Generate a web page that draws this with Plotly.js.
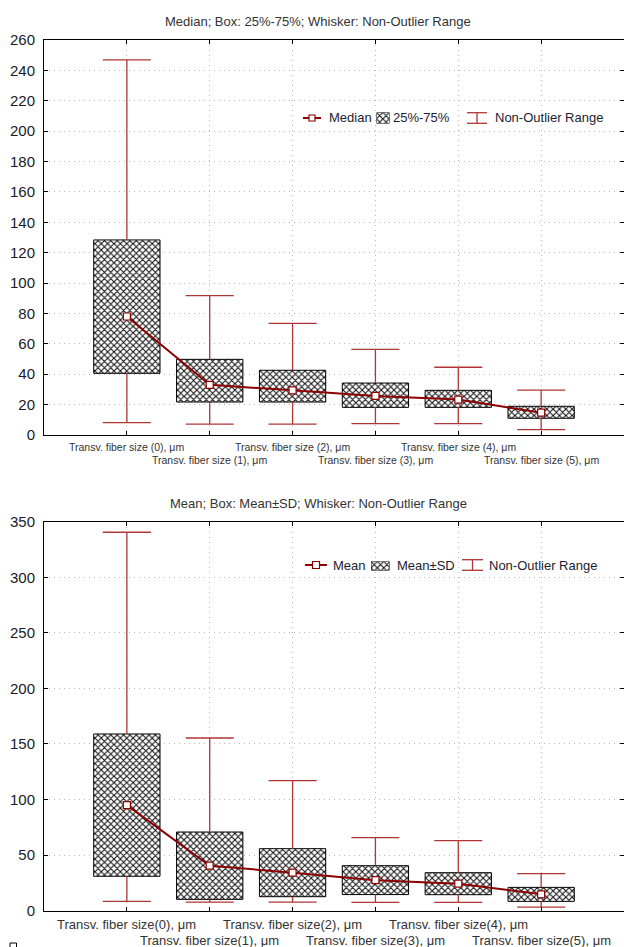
<!DOCTYPE html>
<html>
<head>
<meta charset="utf-8">
<script src="https://cdn.plot.ly/plotly-3.0.1.min.js"></script>
<style>
  html, body { margin: 0; padding: 0; background: #fff; overflow: hidden; }
  #chart { width: 624px; height: 947px; }
</style>
</head>
<body>
<div id="chart"></div>
<script>
// Transverse fiber size by group: median/quartiles (top) and mean/SD (bottom)
const groups = [0, 1, 2, 3, 4, 5];
const labelsTop = [
  'Transv. fiber size (0), μm', 'Transv. fiber size (1), μm', 'Transv. fiber size (2), μm',
  'Transv. fiber size (3), μm', 'Transv. fiber size (4), μm', 'Transv. fiber size (5), μm'
];
const labelsBottom = [
  'Transv. fiber size(0), μm', 'Transv. fiber size(1), μm', 'Transv. fiber size(2), μm',
  'Transv. fiber size(3), μm', 'Transv. fiber size(4), μm', 'Transv. fiber size(5), μm'
];

// Median / quartile summary
const medians = [78, 33, 29.4, 25.7, 23.3, 14.7];
const q25 = [40.6, 21.7, 21.7, 18.2, 18.2, 11];
const q75 = [128.4, 49.8, 42.6, 34.2, 29.4, 18.9];
const rangeMinTop = [8.1, 7.2, 7.2, 7.5, 7.5, 3.5];
const rangeMaxTop = [246.9, 91.7, 73.5, 56.4, 44.6, 29.6];

// Mean / SD summary
const means = [95, 40.5, 34.2, 27.5, 24.3, 14.7];
const sds = [64, 30.3, 21.6, 13, 9.9, 6.3];
const rangeMinBottom = [8.4, 7.8, 7.8, 7.5, 7.5, 3.3];
const rangeMaxBottom = [340.5, 155.4, 117, 65.7, 63, 33.3];

const W = 624, H = 947;
const px = x => x / W;
const py = y => 1 - y / H;

const DARKRED = '#8b0000';
const WHISK = '#b03535';
const FONT = 'Arial, "Liberation Sans", sans-serif';
const CAP = 0.29;   // half width of whisker caps, in category units
const BOXW = 0.8;

function whiskerPath(lo, hi, boxLo, boxHi) {
  const xs = [], ys = [];
  groups.forEach((g, i) => {
    xs.push(g, g, null, g - CAP, g + CAP, null, g, g, null, g - CAP, g + CAP, null);
    ys.push(boxHi[i], hi[i], null, hi[i], hi[i], null, boxLo[i], lo[i], null, lo[i], lo[i], null);
  });
  return { xs, ys };
}

const hatch = { shape: 'x', fgcolor: '#111', bgcolor: '#fff', size: 4.5, solidity: 0.42 };

function boxTrace(lo, hi, xa, ya) {
  return {
    type: 'bar', x: groups, base: lo, y: hi.map((h, i) => h - lo[i]),
    width: BOXW, xaxis: xa, yaxis: ya,
    marker: { color: '#fff', pattern: hatch, line: { color: '#000', width: 1 } },
    hoverinfo: 'skip'
  };
}
function whiskerTrace(lo, hi, boxLo, boxHi, xa, ya) {
  const p = whiskerPath(lo, hi, boxLo, boxHi);
  return {
    type: 'scatter', mode: 'lines', x: p.xs, y: p.ys, xaxis: xa, yaxis: ya,
    line: { color: WHISK, width: 1.3 }, connectgaps: false, hoverinfo: 'skip'
  };
}
function centerTrace(vals, xa, ya) {
  return {
    type: 'scatter', mode: 'lines+markers', x: groups, y: vals, xaxis: xa, yaxis: ya,
    line: { color: DARKRED, width: 2 },
    marker: { symbol: 'square', size: 7, color: '#fff', line: { color: DARKRED, width: 1.2 } },
    hoverinfo: 'skip'
  };
}

const meanLo = means.map((m, i) => m - sds[i]);
const meanHi = means.map((m, i) => m + sds[i]);

const data = [
  boxTrace(q25, q75, 'x', 'y'),
  whiskerTrace(rangeMinTop, rangeMaxTop, q25, q75, 'x', 'y'),
  centerTrace(medians, 'x', 'y'),
  boxTrace(meanLo, meanHi, 'x2', 'y2'),
  whiskerTrace(rangeMinBottom, rangeMaxBottom, meanLo, meanHi, 'x2', 'y2'),
  centerTrace(means, 'x2', 'y2'),
  // hatched legend swatches
  { type: 'bar', x: [0], y: [1], width: 1, xaxis: 'x3', yaxis: 'y3',
    marker: { color: '#fff', pattern: hatch, line: { color: '#000', width: 1 } }, hoverinfo: 'skip' },
  { type: 'bar', x: [0], y: [1], width: 1, xaxis: 'x4', yaxis: 'y4',
    marker: { color: '#fff', pattern: hatch, line: { color: '#000', width: 1 } }, hoverinfo: 'skip' }
];

function xAxis(anchor) {
  return {
    domain: [px(44), 1], range: [-1, 6], anchor: anchor,
    tickvals: groups, showticklabels: false,
    ticks: 'inside', ticklen: 4, tickcolor: '#000',
    showline: true, linecolor: '#000', linewidth: 1, mirror: 'ticks',
    showgrid: true, gridcolor: '#b8b8b8', gridwidth: 1, griddash: '1px,4px',
    zeroline: false, fixedrange: true
  };
}
function yAxis(domain, maxV, step, anchor) {
  return {
    domain: domain, range: [0, maxV], dtick: step, anchor: anchor,
    tickfont: { family: FONT, size: 15, color: '#1a1a2a' },
    ticks: 'inside', ticklen: 4, tickcolor: '#000',
    showline: true, linecolor: '#000', linewidth: 1, mirror: 'ticks',
    showgrid: true, gridcolor: '#b8b8b8', gridwidth: 1, griddash: '1px,4px',
    zeroline: false, fixedrange: true, ticklabelstandoff: 5
  };
}
function hidden(domain, range, anchor) {
  return { domain: domain, range: range, anchor: anchor, visible: false, fixedrange: true };
}

const shapes = [];
const annotations = [];
function text(t, x, y, size, anchor, color) {
  annotations.push({
    xref: 'paper', yref: 'paper', x: px(x), y: py(y), text: t, showarrow: false,
    xanchor: anchor, yanchor: 'middle', font: { family: FONT, size: size, color: color }
  });
}
// category labels, staggered on two rows below each axis
function categoryLabels(labels, xref, row1, row2, size) {
  labels.forEach((t, i) => {
    annotations.push({
      xref: xref, yref: 'paper', x: groups[i], y: py(i % 2 ? row2 : row1), text: t,
      showarrow: false, xanchor: 'center', yanchor: 'middle',
      font: { family: FONT, size: size, color: '#333' }
    });
  });
}
function seg(x0, y0, x1, y1, color, w) {
  shapes.push({ type: 'line', xref: 'paper', yref: 'paper', x0: px(x0), y0: py(y0), x1: px(x1), y1: py(y1),
    line: { color: color, width: w } });
}
function legendRow(y, lineX0, lineX1, mk, label1, t1x, t2, t2x, wx0, wx1, wh, t3x) {
  seg(lineX0, y, lineX1, y, DARKRED, 2);
  const mx = (lineX0 + lineX1) / 2;
  shapes.push({ type: 'rect', xref: 'paper', yref: 'paper',
    x0: px(mx - mk), x1: px(mx + mk), y0: py(y - mk), y1: py(y + mk),
    fillcolor: '#fff', line: { color: DARKRED, width: 1.2 } });
  text(label1, t1x, y, 13, 'left', '#1c1c30');
  text(t2, t2x, y, 13, 'left', '#1c1c30');
  const wm = (wx0 + wx1) / 2;
  seg(wx0, y - wh, wx1, y - wh, WHISK, 1.3);
  seg(wm, y - wh, wm, y + wh, WHISK, 1.3);
  seg(wx0, y + wh, wx1, y + wh, WHISK, 1.3);
  text('Non-Outlier Range', t3x, y, 13, 'left', '#1c1c30');
}

// chart titles
text('Median; Box: 25%-75%; Whisker: Non-Outlier Range', 318, 21, 13, 'center', '#333');
text('Mean; Box: Mean±SD; Whisker: Non-Outlier Range', 318, 503, 13, 'center', '#333');

categoryLabels(labelsTop, 'x', 447, 460, 10.5);
categoryLabels(labelsBottom, 'x2', 924, 940, 13);

// legends
legendRow(118, 303, 321, 3, 'Median', 327, '25%-75%', 391, 467, 487, 5.3, 493);
legendRow(565, 305, 327, 3.5, 'Mean', 331, 'Mean±SD', 395, 462, 483, 5.3, 487);

// small glyph near the bottom-left corner
shapes.push({ type: 'rect', xref: 'paper', yref: 'paper', x0: px(10), x1: px(16.5), y0: py(943), y1: py(950),
  line: { color: '#000', width: 1 }, fillcolor: 'rgba(0,0,0,0)' });

const layout = {
  width: W, height: H,
  margin: { l: 0, r: 0, t: 0, b: 0, pad: 0 },
  paper_bgcolor: '#fff', plot_bgcolor: '#fff',
  showlegend: false, barmode: 'overlay',
  xaxis: xAxis('y'),
  yaxis: yAxis([py(435), py(40)], 260, 20, 'x'),
  xaxis2: xAxis('y2'),
  yaxis2: yAxis([py(910.7), py(521.7)], 350, 50, 'x2'),
  xaxis3: hidden([px(376.5), px(389.5)], [-0.5, 0.5], 'y3'),
  yaxis3: hidden([py(123.5), py(112.5)], [0, 1], 'x3'),
  xaxis4: hidden([px(371), px(389.5)], [-0.5, 0.5], 'y4'),
  yaxis4: hidden([py(570.5), py(561.5)], [0, 1], 'x4'),
  shapes: shapes,
  annotations: annotations
};

Plotly.newPlot('chart', data, layout, { staticPlot: true, displayModeBar: false });
</script>
</body>
</html>
